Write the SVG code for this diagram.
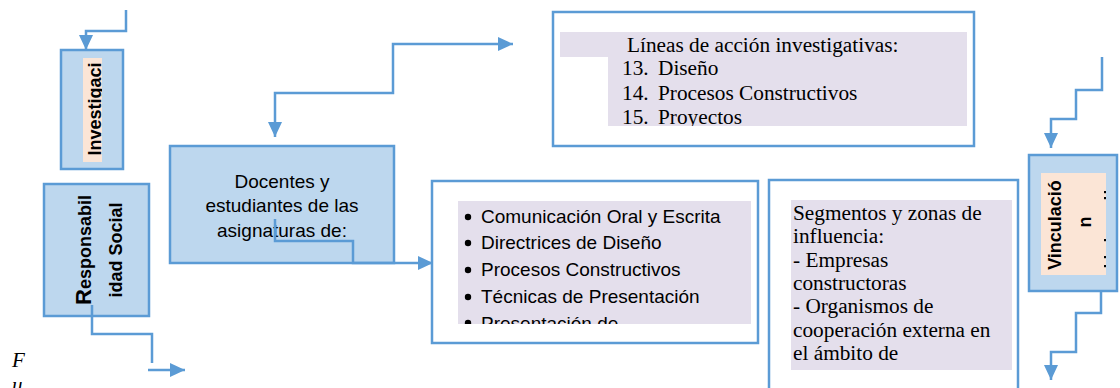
<svg xmlns="http://www.w3.org/2000/svg" width="1120" height="388" viewBox="0 0 1120 388">
<style>
.box{fill:#BDD7EE;stroke:#5B9BD5;stroke-width:2.5}
.wbox{fill:#FFFFFF;stroke:#5B9BD5;stroke-width:2.5}
.peach{fill:#FBE5D6}
.lav{fill:#E4DFEC}
.sans{font-family:"Liberation Sans",Arial,sans-serif;font-size:19px;fill:#000}
.bold{font-family:"Liberation Sans",Arial,sans-serif;font-size:18px;font-weight:bold;fill:#000}
.serif{font-family:"Liberation Serif","Times New Roman",serif;font-size:21.3px;fill:#000}
.conn{fill:none;stroke:#5B9BD5;stroke-width:2.5}
</style>
<defs>
<marker id="arr" markerUnits="userSpaceOnUse" markerWidth="16" markerHeight="15" refX="15" refY="7" orient="auto-start-reverse">
<path d="M0,0 L15,7 L0,14 Z" fill="#5B9BD5"/>
</marker>
<clipPath id="cInv"><rect x="83" y="58" width="19" height="104"/></clipPath>
<clipPath id="cVin"><rect x="1041" y="173" width="65" height="102"/></clipPath>
<clipPath id="cLin"><path d="M560,32 H967 V126 H608 V57 H560 Z"/></clipPath>
<clipPath id="cBul"><rect x="458" y="201" width="293" height="123"/></clipPath>
<clipPath id="cSeg"><rect x="791" y="200" width="221" height="170"/></clipPath>
</defs>
<rect width="1120" height="388" fill="#FFFFFF"/>

<g id="investigacion">
<rect class="box" x="61" y="50" width="62" height="119"/>
<rect class="peach" x="83" y="58" width="19" height="104"/>
<g clip-path="url(#cInv)">
<text class="bold" transform="translate(101,109) rotate(-90)" text-anchor="middle">Investigaci</text>
</g>
</g>

<g id="responsabilidad">
<rect class="box" x="44" y="184" width="105" height="132"/>
<text class="bold" transform="translate(91,250) rotate(-90)" text-anchor="middle"><tspan font-size="22">R</tspan>esponsabil</text>
<text class="bold" transform="translate(122,250) rotate(-90)" text-anchor="middle">idad Social</text>
</g>

<g id="docentes">
<rect class="box" x="170" y="146" width="224" height="117"/>
<text class="sans" x="282" y="188" text-anchor="middle">Docentes y</text>
<text class="sans" x="282" y="212" text-anchor="middle">estudiantes de las</text>
<text class="sans" x="282" y="237" text-anchor="middle">asignaturas de:</text>
</g>

<g id="lineas">
<rect class="wbox" x="553" y="12" width="421" height="134"/>
<path class="lav" d="M560,32 H967 V126 H608 V57 H560 Z"/>
<g clip-path="url(#cLin)">
<text class="serif" x="627" y="52">Líneas de acción investigativas:</text>
<text class="serif" x="622" y="75">13.</text><text class="serif" x="658" y="75">Diseño</text>
<text class="serif" x="622" y="100">14.</text><text class="serif" x="658" y="100">Procesos Constructivos</text>
<text class="serif" x="622" y="124">15.</text><text class="serif" x="658" y="124">Proyectos</text>
</g>
</g>

<g id="asignaturas">
<rect class="wbox" x="432" y="181" width="326" height="162"/>
<rect class="lav" x="458" y="201" width="293" height="123"/>
<g clip-path="url(#cBul)">
<circle cx="468" cy="217" r="3.2"/>
<text class="sans" x="481" y="223">Comunicación Oral y Escrita</text>
<circle cx="468" cy="243" r="3.2"/>
<text class="sans" x="481" y="249">Directrices de Diseño</text>
<circle cx="468" cy="270" r="3.2"/>
<text class="sans" x="481" y="276">Procesos Constructivos</text>
<circle cx="468" cy="297" r="3.2"/>
<text class="sans" x="481" y="303">Técnicas de Presentación</text>
<circle cx="468" cy="323" r="3.2"/>
<text class="sans" x="481" y="330">Presentación de</text>
</g>
</g>

<g id="segmentos">
<rect class="wbox" x="769" y="180" width="249" height="215"/>
<rect class="lav" x="791" y="200" width="221" height="170"/>
<g clip-path="url(#cSeg)">
<text class="serif" x="793" y="220">Segmentos y zonas de</text>
<text class="serif" x="793" y="243.3">influencia:</text>
<text class="serif" x="793" y="266.6">- Empresas</text>
<text class="serif" x="793" y="290">constructoras</text>
<text class="serif" x="793" y="313.3">- Organismos de</text>
<text class="serif" x="793" y="336.6">cooperación externa en</text>
<text class="serif" x="793" y="360">el ámbito de</text>
</g>
</g>

<g id="vinculacion">
<rect class="box" x="1029" y="155" width="88" height="136" stroke-width="3"/>
<rect class="peach" x="1041" y="173" width="65" height="102"/>
<g clip-path="url(#cVin)">
<text class="bold" transform="translate(1061,225) rotate(-90)" text-anchor="middle">Vinculació</text>
<text class="bold" transform="translate(1091,222) rotate(-90)" text-anchor="middle">n</text>
<rect x="1104" y="191" width="2.2" height="2.2"/>
<rect x="1104" y="197" width="2.2" height="2.2"/>
<rect x="1104" y="239" width="2.2" height="2.2"/>
<rect x="1104" y="256" width="2.2" height="2.2"/>
<rect x="1104" y="265" width="2.2" height="2.2"/>
</g>
</g>

<g id="caption">
<text x="12" y="367" font-family="'Liberation Serif','Times New Roman',serif" font-style="italic" font-size="21px">F</text>
<text x="12" y="392" font-family="'Liberation Serif','Times New Roman',serif" font-style="italic" font-size="21px">u</text>
</g>

<g id="connectors">
<polyline class="conn" points="126,10 126,31 86,31 86,50" marker-end="url(#arr)"/>
<polyline class="conn" points="92,305 92,334 152,334 152,363"/>
<line class="conn" x1="148" y1="370" x2="185" y2="370" marker-end="url(#arr)"/>
<polyline class="conn" points="275,137 275,93 393,93 393,44 513,44" marker-start="url(#arr)" marker-end="url(#arr)"/>
<polyline class="conn" points="275,219 275,241 353,241 353,263 433,263" marker-end="url(#arr)"/>
<polyline class="conn" points="1102,57 1102,90 1076,90 1076,119 1051,119 1051,148" marker-end="url(#arr)"/>
<polyline class="conn" points="1101,291 1101,313 1076,313 1076,352 1051,352 1051,380" marker-end="url(#arr)"/>
</g>
</svg>
